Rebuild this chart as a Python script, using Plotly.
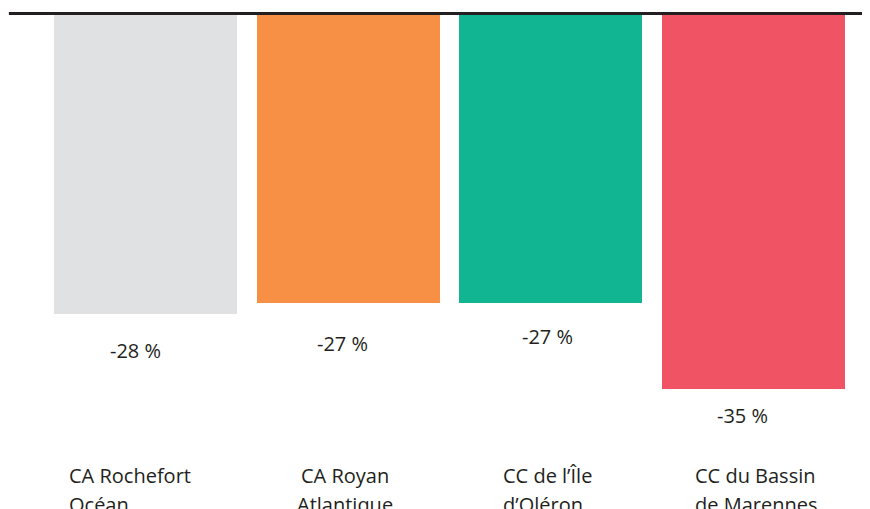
import plotly.graph_objects as go

categories = ["CA Rochefort<br>Océan", "CA Royan<br>Atlantique", "CC de l’Île<br>d’Oléron", "CC du Bassin<br>de Marennes"]
values = [-28, -27, -27, -35]
value_labels = ["-28 %", "-27 %", "-27 %", "-35 %"]
colors = ["#e0e1e3", "#f78f45", "#12b591", "#f05363"]

# styling offsets (pixels) for labels
val_yshift = [-36, -40, -33, -26]
val_xshift = [-10, -6, -3, -11]
cat_anchor = ["left", "center", "left", "left"]
cat_xshift = [-79, -3, -50, -60]
cat_line_y = [-43.1, -45.8]

xs = list(range(len(categories)))
fig = go.Figure(go.Bar(x=xs, y=values, marker=dict(color=colors, line=dict(width=0)),
                       width=0.903, hoverinfo="skip"))

font_family = "Open Sans"
txt = "#231f20"
for i in xs:
    fig.add_annotation(x=i, y=values[i], text=value_labels[i], showarrow=False,
                       yanchor="middle", xanchor="center", yshift=val_yshift[i], xshift=val_xshift[i],
                       font=dict(family=font_family, size=20, color=txt))
    for j, line in enumerate(categories[i].split("<br>")):
        fig.add_annotation(x=i, y=cat_line_y[j], text=line, showarrow=False,
                           yanchor="middle", xanchor=cat_anchor[i], align=cat_anchor[i],
                           xshift=cat_xshift[i],
                           font=dict(family=font_family, size=20, color=txt))

fig.add_shape(type="line", xref="paper", yref="paper", x0=0.001, x1=1, y0=1.001, y1=1.001,
              line=dict(color=txt, width=3), layer="above")

fig.update_layout(
    width=862, height=501, margin=dict(l=0, r=0, t=6, b=0),
    paper_bgcolor="white", plot_bgcolor="white", showlegend=False,
    xaxis=dict(range=[-0.6787, 3.576], visible=False, fixedrange=True),
    yaxis=dict(range=[-46.18, 0], visible=False, fixedrange=True),
    bargap=0,
)
fig.write_html("out.html")
